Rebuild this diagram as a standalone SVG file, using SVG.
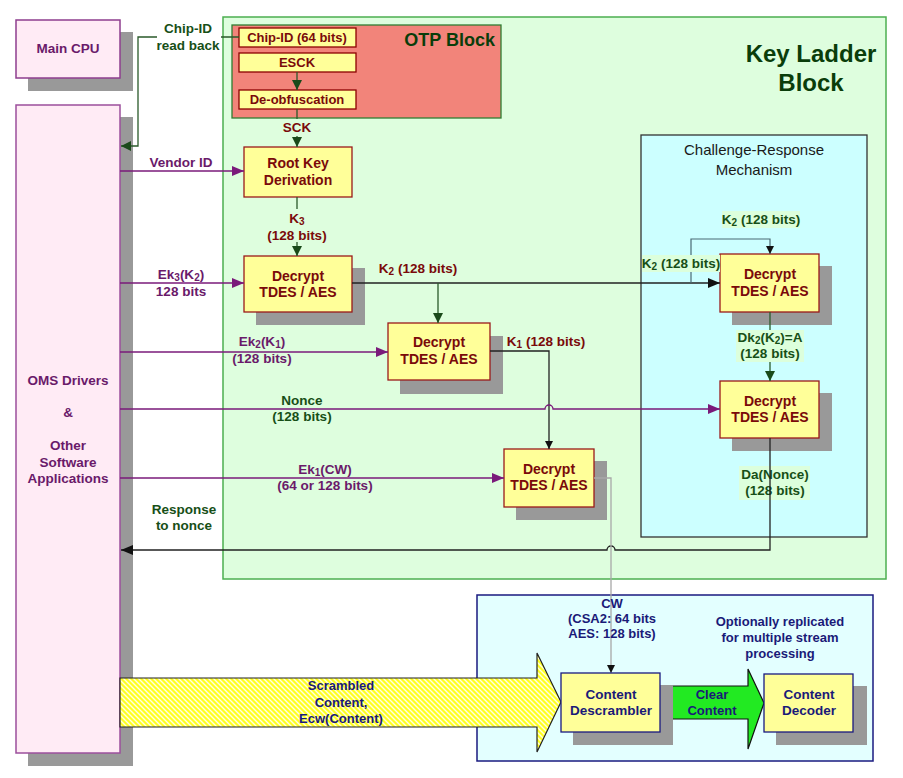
<svg xmlns="http://www.w3.org/2000/svg" width="903" height="778" viewBox="0 0 903 778">
<defs>
<style>
text{font-family:"Liberation Sans",Arial,sans-serif;font-weight:bold;font-size:13.5px;text-anchor:middle}
.box{fill:#ffff99;stroke:#9a1a1a;stroke-width:1.3}
.shadow{fill:#999999}
.bt{fill:#7a0a0a;font-size:14px}
.red{fill:#7a0a0a}
.pur{fill:#6a1a6a}
.grn{fill:#174f17}
.navy{fill:#1a1a78}
.pline{fill:none;stroke:#7a1a7a;stroke-width:1.3}
.gline{fill:none;stroke:#2a5a2a;stroke-width:1.3}
.kline{fill:none;stroke:#222;stroke-width:1.3}
.lbg{fill:#dcffdc}
</style>
<marker id="ap" viewBox="0 0 12 10" refX="12" refY="5" markerWidth="12" markerHeight="10" markerUnits="userSpaceOnUse" orient="auto"><path d="M0,0 L12,5 L0,10 z" fill="#7a1a7a"/></marker>
<marker id="ag" viewBox="0 0 10 10" refX="10" refY="5" markerWidth="10" markerHeight="10" markerUnits="userSpaceOnUse" orient="auto"><path d="M0,0 L10,5 L0,10 z" fill="#1a4a1a"/></marker>
<marker id="ak" viewBox="0 0 12 10" refX="12" refY="5" markerWidth="12" markerHeight="10" markerUnits="userSpaceOnUse" orient="auto"><path d="M0,0 L12,5 L0,10 z" fill="#111"/></marker>
<marker id="aks" viewBox="0 0 8 8" refX="8" refY="4" markerWidth="8" markerHeight="8" markerUnits="userSpaceOnUse" orient="auto"><path d="M0,0 L8,4 L0,8 z" fill="#111"/></marker>
<pattern id="hatch" patternUnits="userSpaceOnUse" width="5" height="5">
<rect width="5" height="5" fill="#ffff22"/>
<path d="M0,0 L5,5 M-1,4 L1,6 M4,-1 L6,1" stroke="#ffffe0" stroke-width="1.4"/>
</pattern>
</defs>
<rect width="903" height="778" fill="#ffffff"/>

<g id="main-cpu">
<rect x="28" y="32" width="105" height="59" class="shadow"/>
<rect x="16" y="20" width="104" height="58" fill="#ffebf5" stroke="#8e3e8e" stroke-width="1.5"/>
<text x="68" y="53" class="pur">Main CPU</text>
</g>

<g id="oms-drivers">
<rect x="28" y="117" width="105" height="649" class="shadow"/>
<rect x="16" y="105" width="104" height="648" fill="#ffebf5" stroke="#9c4f9c" stroke-width="1.5"/>
<text x="68" y="385" class="pur">OMS Drivers</text>
<text x="68" y="417" class="pur">&amp;</text>
<text x="68" y="450" class="pur">Other</text>
<text x="68" y="467" class="pur">Software</text>
<text x="68" y="483" class="pur">Applications</text>
</g>

<g id="key-ladder-block">
<rect x="223" y="17" width="663" height="562" fill="#defede" stroke="#4caf50" stroke-width="1.5"/>
<text x="811" y="62" class="grn" style="font-size:24px;fill:#0a3d0a">Key Ladder</text>
<text x="811" y="91" class="grn" style="font-size:24px;fill:#0a3d0a">Block</text>
</g>

<g id="otp-block">
<rect x="232" y="25" width="269" height="93" fill="#f2847a" stroke="#2e7d32" stroke-width="1.3"/>
<text x="495" y="46" style="font-size:18px;text-anchor:end;fill:#0a3d0a">OTP Block</text>
</g>

<g id="chip-id">
<rect x="239" y="28" width="117" height="19" fill="#ffff99" stroke="#8b0000" stroke-width="1.3"/>
<text x="297" y="42" class="red" style="font-size:13px">Chip-ID (64 bits)</text>
</g>
<g id="esck">
<rect x="239" y="53" width="117" height="19" fill="#ffff99" stroke="#8b0000" stroke-width="1.3"/>
<text x="297" y="67" class="red" style="font-size:13px">ESCK</text>
</g>
<g id="de-obfuscation">
<rect x="239" y="90" width="117" height="19" fill="#ffff99" stroke="#8b0000" stroke-width="1.3"/>
<text x="297" y="104" class="red" style="font-size:13px">De-obfuscation</text>
</g>

<g id="challenge-response">
<rect x="641" y="135" width="226" height="402" fill="#ccffff" stroke="#333" stroke-width="1.3"/>
<text x="754" y="155" style="font-weight:normal;font-size:15px;fill:#1a1a1a">Challenge-Response</text>
<text x="754" y="175" style="font-weight:normal;font-size:15px;fill:#1a1a1a">Mechanism</text>
</g>

<g id="descrambling-area">
<rect x="477" y="595" width="396" height="166" fill="#e3ffff" stroke="#1a1a80" stroke-width="1.5"/>
<text x="780" y="626" class="navy" style="font-size:13px">Optionally replicated</text>
<text x="780" y="642" class="navy" style="font-size:13px">for multiple stream</text>
<text x="780" y="658" class="navy" style="font-size:13px">processing</text>
</g>

<g id="root-key-derivation">
<rect x="244" y="147" width="108" height="50" class="box"/>
<text x="298" y="168" class="bt">Root Key</text>
<text x="298" y="185" class="bt">Derivation</text>
</g>

<g id="decrypt-k3">
<rect x="256" y="268" width="109" height="57" class="shadow"/>
<rect x="244" y="256" width="108" height="56" class="box"/>
<text x="298" y="281" class="bt">Decrypt</text>
<text x="298" y="297" class="bt">TDES / AES</text>
</g>

<g id="decrypt-k2">
<rect x="400" y="336" width="103" height="58" class="shadow"/>
<rect x="388" y="323" width="102" height="57" class="box"/>
<text x="439" y="347" class="bt">Decrypt</text>
<text x="439" y="364" class="bt">TDES / AES</text>
</g>

<g id="decrypt-k1">
<rect x="516" y="461" width="91" height="59" class="shadow"/>
<rect x="504" y="449" width="90" height="58" class="box"/>
<text x="549" y="474" class="bt">Decrypt</text>
<text x="549" y="490" class="bt">TDES / AES</text>
</g>

<g id="decrypt-challenge-a">
<rect x="732" y="266" width="100" height="59" class="shadow"/>
<rect x="720" y="254" width="99" height="58" class="box"/>
<text x="770" y="279" class="bt">Decrypt</text>
<text x="770" y="296" class="bt">TDES / AES</text>
</g>

<g id="decrypt-challenge-b">
<rect x="732" y="393" width="100" height="58" class="shadow"/>
<rect x="720" y="381" width="99" height="57" class="box"/>
<text x="770" y="406" class="bt">Decrypt</text>
<text x="770" y="422" class="bt">TDES / AES</text>
</g>

<g id="connectors">
<!-- chip-id read back -->
<path d="M239,37 H221 M157,37 H138 V146 H121" class="gline" marker-end="url(#ag)"/>
<text x="188" y="33" class="grn">Chip-ID</text>
<text x="188" y="50" class="grn">read back</text>
<!-- ESCK to De-obfuscation -->
<path d="M297,72 V90" class="gline" marker-end="url(#ag)"/>
<!-- SCK -->
<path d="M297,109 V119 M297,136 V147" class="gline" marker-end="url(#ag)"/>
<text x="297" y="132" class="red">SCK</text>
<!-- Vendor ID -->
<path d="M120,171 H244" class="pline" marker-end="url(#ap)"/>
<text x="181" y="167" class="pur">Vendor ID</text>
<!-- K3 -->
<path d="M297,197 V209 M297,242 V256" class="gline" marker-end="url(#ag)"/>
<text x="297" y="223" class="red">K<tspan font-size="10" dy="2">3</tspan></text>
<text x="297" y="240" class="red">(128 bits)</text>
<!-- Ek3(K2) -->
<path d="M120,283 H244" class="pline" marker-end="url(#ap)"/>
<text x="181" y="279" class="pur">Ek<tspan font-size="10" dy="2">3</tspan><tspan dy="-2">(K</tspan><tspan font-size="10" dy="2">2</tspan><tspan dy="-2">)</tspan></text>
<text x="181" y="296" class="pur">128 bits</text>
<!-- K2 -->
<path d="M352,283 H720" class="kline" marker-end="url(#ak)"/>
<path d="M438,283 V323" class="gline" marker-end="url(#ag)"/>
<text x="418" y="273" class="red">K<tspan font-size="10" dy="2">2</tspan><tspan dy="-2"> (128 bits)</tspan></text>
<!-- K2 loop -->
<path d="M691,283 V239 H770 V254" fill="none" stroke="#4a6a74" stroke-width="1.2" marker-end="url(#aks)"/>
<rect x="722" y="211" width="78" height="17" class="lbg"/>
<text x="761" y="224" class="grn">K<tspan font-size="10" dy="2">2</tspan><tspan dy="-2"> (128 bits)</tspan></text>
<rect x="642" y="255" width="78" height="17" class="lbg"/>
<text x="681" y="268" class="grn">K<tspan font-size="10" dy="2">2</tspan><tspan dy="-2"> (128 bits)</tspan></text>
<!-- Ek2(K1) -->
<path d="M120,352 H388" class="pline" marker-end="url(#ap)"/>
<text x="262" y="346" class="pur">Ek<tspan font-size="10" dy="2">2</tspan><tspan dy="-2">(K</tspan><tspan font-size="10" dy="2">1</tspan><tspan dy="-2">)</tspan></text>
<text x="262" y="363" class="pur">(128 bits)</text>
<!-- K1 -->
<path d="M490,351 H549 V449" class="kline" marker-end="url(#aks)"/>
<text x="546" y="346" class="red">K<tspan font-size="10" dy="2">1</tspan><tspan dy="-2"> (128 bits)</tspan></text>
<!-- A -->
<path d="M770,312 V381" class="gline" marker-end="url(#ag)"/>
<rect x="736" y="330" width="68" height="32" class="lbg"/>
<text x="770" y="342" class="grn">Dk<tspan font-size="10" dy="2">2</tspan><tspan dy="-2">(K</tspan><tspan font-size="10" dy="2">2</tspan><tspan dy="-2">)=A</tspan></text>
<text x="770" y="358" class="grn">(128 bits)</text>
<!-- Nonce -->
<path d="M120,409 H545 A4,4 0 0 1 553,409 H720" class="pline" marker-end="url(#ap)"/>
<text x="302" y="405" class="grn">Nonce</text>
<text x="302" y="421" class="grn">(128 bits)</text>
<!-- Ek1(CW) -->
<path d="M120,478 H504" class="pline" marker-end="url(#ap)"/>
<text x="325" y="474" class="pur">Ek<tspan font-size="10" dy="2">1</tspan><tspan dy="-2">(CW)</tspan></text>
<text x="325" y="490" class="pur">(64 or 128 bits)</text>
<!-- Da(Nonce) response -->
<rect x="739" y="466" width="71" height="34" class="lbg"/>
<text x="775" y="479" class="grn">Da(Nonce)</text>
<text x="775" y="495" class="grn">(128 bits)</text>
<path d="M770,438 V550 H615 A4,4 0 0 0 607,550 H121" class="kline" marker-end="url(#ak)"/>
<text x="184" y="514" class="grn">Response</text>
<text x="184" y="530" class="grn">to nonce</text>
<!-- CW -->
<path d="M594,478 H611 V673" fill="none" stroke="#a8a8a8" stroke-width="1.3" marker-end="url(#aks)"/>
<text x="612" y="608" class="navy" style="font-size:13px">CW</text>
<text x="612" y="623" class="navy" style="font-size:13px">(CSA2: 64 bits</text>
<text x="612" y="638" class="navy" style="font-size:13px">AES: 128 bits)</text>
<!-- Scrambled content -->
<path d="M120,678 H537 V653 L561,702 L537,752 V727 H120 Z" fill="url(#hatch)" stroke="#222" stroke-width="1.2"/>
<text x="341" y="690" class="navy" style="font-size:13px">Scrambled</text>
<text x="341" y="707" class="navy" style="font-size:13px">Content,</text>
<text x="341" y="723" class="navy" style="font-size:13px">Ecw(Content)</text>
<!-- Clear content -->
<path d="M660,686 H748 V669 L764,703 L748,749 V719 H660 Z" fill="#22ea22" stroke="#111" stroke-width="1.2"/>
<text x="712" y="699" class="navy" style="font-size:13px">Clear</text>
<text x="712" y="715" class="navy" style="font-size:13px">Content</text>
</g>

<g id="content-descrambler">
<rect x="573" y="685" width="100" height="60" class="shadow"/>
<rect x="561" y="673" width="99" height="59" fill="#ffff99" stroke="#1a1a80" stroke-width="1.3"/>
<text x="611" y="699" class="navy" style="font-size:13.5px">Content</text>
<text x="611" y="715" class="navy" style="font-size:13.5px">Descrambler</text>
</g>

<g id="content-decoder">
<rect x="776" y="686" width="91" height="59" class="shadow"/>
<rect x="764" y="674" width="89" height="58" fill="#ffff99" stroke="#1a1a80" stroke-width="1.3"/>
<text x="809" y="699" class="navy" style="font-size:13.5px">Content</text>
<text x="809" y="715" class="navy" style="font-size:13.5px">Decoder</text>
</g>
</svg>
